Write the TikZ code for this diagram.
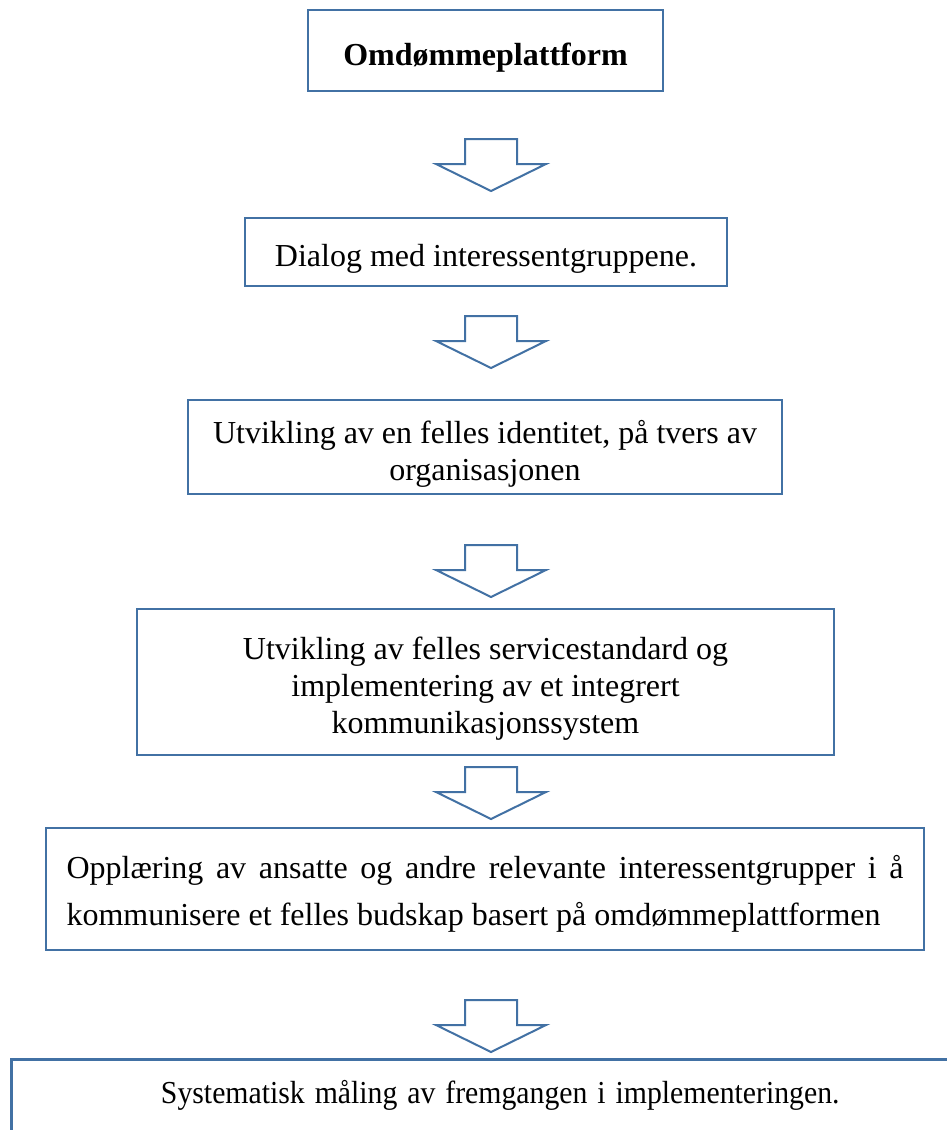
\documentclass[tikz,border=0pt]{standalone}
\usepackage{fontspec}
\setmainfont{Liberation Serif}
\usepackage{xcolor}

\definecolor{rammeblaa}{RGB}{66,113,164}

\tikzset{
  boks/.style={draw=rammeblaa, line width=2.5pt, inner sep=0pt, align=center,
    font=\fontsize{32}{37}\selectfont},
  pil/.style={draw=rammeblaa, line width=2pt, fill=white, line join=miter}
}

% faste linjehoyder, saa teksten sitter litt under midten av boksen
\newcommand{\topp}{\rule{0pt}{38pt}}
\newcommand{\bunn}{\rule[-9pt]{0pt}{9pt}}

% hul blokkpil nedover, #1 = midten av toppkanten
\newcommand{\blokkpil}[1]{%
  \draw[pil] (#1) ++(-26,0) -- ++(0,25) -- ++(-29,0) -- ++(55,27)
    -- ++(55,-27) -- ++(-29,0) -- ++(0,-25) -- cycle;}

\begin{document}
\begin{tikzpicture}[x=1pt,y=-1pt]
  \useasboundingbox (0,0) rectangle (947,1130);

  \node[boks, minimum width=355pt, minimum height=81pt,
    font=\bfseries\fontsize{32}{37}\selectfont] (plattform) at (485.5,50.5) {\topp Omdømmeplattform\bunn};

  \node[boks, minimum width=482pt, minimum height=68pt] (dialog) at (486,252)
    {\topp Dialog med interessentgruppene.\bunn};

  \node[boks, minimum width=594pt, minimum height=94pt] (identitet) at (485,447)
    {\topp Utvikling av en felles identitet, på tvers av\\organisasjonen\bunn};

  \node[boks, minimum width=697pt, minimum height=146pt] (service) at (485.5,682)
    {\topp Utvikling av felles servicestandard og\\implementering av et integrert\\kommunikasjonssystem\bunn};

  \node[boks, minimum width=878pt, minimum height=122pt, inner xsep=20.5pt,
    text width=837pt, align=justify, font=\fontsize{32}{47}\selectfont] (opplaering) at (485,889)
    {\rule{0pt}{34pt}Opplæring av ansatte og andre relevante interessentgrupper i å kommunisere et felles budskap basert på omdømmeplattformen\bunn};

  \node[boks, anchor=north west, text width=978pt, text height=44pt, text depth=58pt] (maaling) at (10,1058)
    {\scalebox{0.93}[1]{Systematisk måling av fremgangen i implementeringen.}};

  \coordinate (p1) at (491,139);
  \coordinate (p2) at (491,316);
  \coordinate (p3) at (491,545);
  \coordinate (p4) at (491,767);
  \coordinate (p5) at (491,1000);
  \blokkpil{p1}
  \blokkpil{p2}
  \blokkpil{p3}
  \blokkpil{p4}
  \blokkpil{p5}
\end{tikzpicture}
\end{document}
